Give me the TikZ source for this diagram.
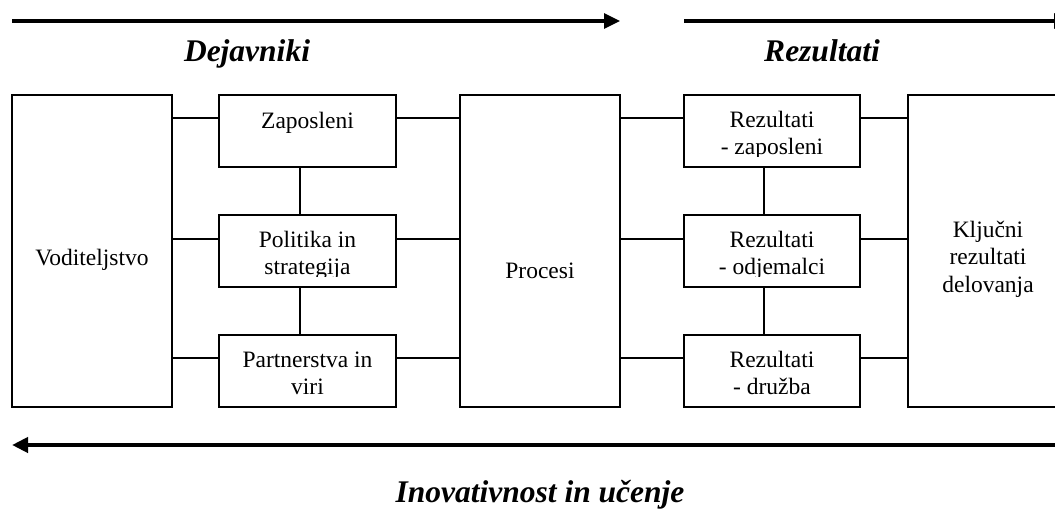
\documentclass[tikz,border=0pt]{standalone}
\usepackage{fontspec}
\setmainfont{Liberation Serif}
\usetikzlibrary{arrows.meta}
\begin{document}
\begin{tikzpicture}[x=1pt,y=-1pt,
  box/.style={draw, line width=1.8pt, inner sep=0pt},
  conn/.style={line width=1.6pt},
  flow/.style={line width=3.2pt, -{Triangle[length=16pt,width=15pt]}},
  txt/.style={anchor=base, inner sep=0pt, font=\fontsize{23.5}{27}\selectfont},
  ttl/.style={anchor=base, inner sep=0pt, font=\fontsize{31.5}{36}\selectfont\bfseries\itshape}]
\useasboundingbox (0,0) rectangle (1055,511);
\clip (0,0) rectangle (1055,511);
% boxes
\node[box, minimum width=160pt, minimum height=312pt] (vod) at (92,251) {};
\node[box, minimum width=177pt, minimum height=72pt] (zap) at (307.5,131) {};
\node[box, minimum width=177pt, minimum height=72pt] (pol) at (307.5,251) {};
\node[box, minimum width=177pt, minimum height=72pt] (par) at (307.5,371) {};
\node[box, minimum width=160pt, minimum height=312pt] (pro) at (540,251) {};
\node[box, minimum width=176pt, minimum height=72pt] (rz1) at (772,131) {};
\node[box, minimum width=176pt, minimum height=72pt] (rz2) at (772,251) {};
\node[box, minimum width=176pt, minimum height=72pt] (rz3) at (772,371) {};
\node[box, minimum width=160pt, minimum height=312pt] (klj) at (988,251) {};
% texts
\node[txt] (tvod) at (92,265) {Voditeljstvo};
\node[txt] (tzap) at (307.5,128) {Zaposleni};
\node[txt] (tpol1) at (307.5,247) {Politika in};
\begin{scope}
\clip (219,215) rectangle (396,276.5);
\node[txt] (tpol2) at (307.5,274) {strategija};
\end{scope}
\node[txt] (tpar1) at (307.5,367) {Partnerstva in};
\node[txt] (tpar2) at (307.5,394) {viri};
\node[txt] (tpro) at (540,278) {Procesi};
\node[txt] (trz11) at (772,127) {Rezultati};
\begin{scope}
\clip (684,95) rectangle (860,156);
\node[txt] (trz12) at (772,154) {- zaposleni};
\end{scope}
\node[txt] (trz21) at (772,247) {Rezultati};
\begin{scope}
\clip (684,215) rectangle (860,276.5);
\node[txt] (trz22) at (772,274) {- odjemalci};
\end{scope}
\node[txt] (trz31) at (772,367) {Rezultati};
\node[txt] (trz32) at (772,394) {- družba};
\node[txt] (tklj1) at (988,237) {Ključni};
\node[txt] (tklj2) at (988,264) {rezultati};
\node[txt] (tklj3) at (988,292) {delovanja};
% connectors
\coordinate (r1) at (0,118);
\coordinate (r2) at (0,239);
\coordinate (r3) at (0,358);
\coordinate (c1) at (300,0);
\coordinate (c2) at (764,0);
\draw[conn] (vod.east |- r1) -- (zap.west |- r1);
\draw[conn] (zap.east |- r1) -- (pro.west |- r1);
\draw[conn] (pro.east |- r1) -- (rz1.west |- r1);
\draw[conn] (rz1.east |- r1) -- (klj.west |- r1);
\draw[conn] (vod.east |- r2) -- (pol.west |- r2);
\draw[conn] (pol.east |- r2) -- (pro.west |- r2);
\draw[conn] (pro.east |- r2) -- (rz2.west |- r2);
\draw[conn] (rz2.east |- r2) -- (klj.west |- r2);
\draw[conn] (vod.east |- r3) -- (par.west |- r3);
\draw[conn] (par.east |- r3) -- (pro.west |- r3);
\draw[conn] (pro.east |- r3) -- (rz3.west |- r3);
\draw[conn] (rz3.east |- r3) -- (klj.west |- r3);
\draw[conn] (zap.south -| c1) -- (pol.north -| c1);
\draw[conn] (pol.south -| c1) -- (par.north -| c1);
\draw[conn] (rz1.south -| c2) -- (rz2.north -| c2);
\draw[conn] (rz2.south -| c2) -- (rz3.north -| c2);
% titles
\node[ttl] (dej) at (247,62) {Dejavniki};
\node[ttl] (rez) at (822,62) {Rezultati};
\node[ttl] (ino) at (540,502) {Inovativnost in učenje};
% flow arrows
\coordinate (a1s) at (12,21);
\coordinate (a1e) at (620,21);
\coordinate (a2s) at (684,21);
\coordinate (a2e) at (1070,21);
\coordinate (a3s) at (1080,445);
\coordinate (a3e) at (12,445);
\draw[flow] (a1s) -- (a1e);
\draw[flow] (a2s) -- (a2e);
\draw[flow, line width=4pt] (a3s) -- (a3e);
\end{tikzpicture}
\end{document}
